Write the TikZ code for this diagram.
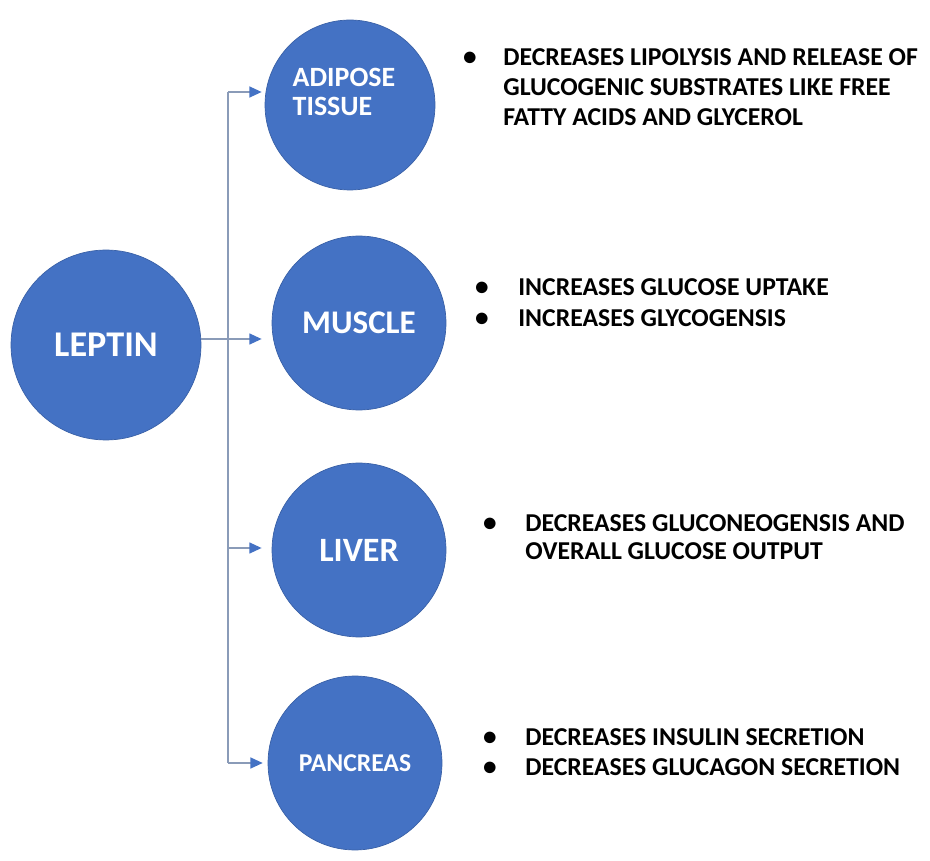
\documentclass[tikz,border=0pt]{standalone}
\usepackage{fontspec}
\setmainfont{Carlito}
\usetikzlibrary{arrows.meta}
\definecolor{organBlue}{HTML}{4472C4}
\definecolor{linkGrey}{HTML}{8A9BB8}

\tikzset{
  organ/.style={circle, fill=organBlue, draw=organBlue!85!black, line width=0.4pt,
    text=white, inner sep=0pt},
  organtext/.style={text=white, inner sep=0pt},
  link/.style={linkGrey, line width=0.95pt},
  arrowto/.style={-{Triangle[length=7pt, width=6.2pt, color=organBlue]}},
  bulletmark/.style={anchor=base, inner sep=0pt, font=\bfseries\fontsize{15.5}{18}\selectfont},
  effectline/.style={anchor=base west, inner sep=0pt, font=\bfseries\fontsize{14.65}{18}\selectfont}
}

\begin{document}
\begin{tikzpicture}[x=0.02cm, y=-0.02cm]
  \useasboundingbox (0,0) rectangle (930,861);

  % hormone and the four target organs
  \node[organ, minimum size=3.8cm, font=\bfseries\fontsize{20.6}{24}\selectfont] (leptin) at (106,345) {LEPTIN};
  \node[organ, minimum size=3.4cm] (adipose) at (350,105) {};
  \node[organtext, align=left, font=\bfseries\fontsize{15.9}{16.5}\selectfont] (adiposetxt) at (344,92) {ADIPOSE\\TISSUE};
  \node[organ, minimum size=3.48cm, font=\bfseries\fontsize{18.8}{24}\selectfont] (muscle) at (359,323) {MUSCLE};
  \node[organ, minimum size=3.48cm, font=\bfseries\fontsize{19.4}{24}\selectfont] (liver) at (359,550) {LIVER};
  \node[organ, minimum size=3.48cm, font=\bfseries\fontsize{14.6}{18}\selectfont] (pancreas) at (355,763) {PANCREAS};

  % branching connectors
  \coordinate (jadi) at (228,92);
  \coordinate (jmus) at (228,339);
  \coordinate (jliv) at (228,548);
  \coordinate (jpan) at (228,763);
  \draw[link] (jadi) -- (jpan);
  \draw[link, arrowto, shorten >=1.7pt] (jadi) -- (jadi -| adipose.west);
  \draw[link, arrowto, shorten >=5.7pt] (leptin.east |- jmus) -- (jmus -| muscle.west);
  \draw[link, arrowto, shorten >=5.7pt] (jliv) -- (jliv -| liver.west);
  \draw[link, arrowto, shorten >=2.8pt] (jpan) -- (jpan -| pancreas.west);

  % effects on adipose tissue
  \node[bulletmark] (adib1) at (470,66) {\textbullet};
  \node[effectline] (adi1) at (503,66) {DECREASES LIPOLYSIS AND RELEASE OF};
  \node[effectline] (adi2) at (503,96) {GLUCOGENIC SUBSTRATES LIKE FREE};
  \node[effectline] (adi3) at (503,126) {FATTY ACIDS AND GLYCEROL};

  % effects on muscle
  \node[bulletmark] (musb1) at (482,296) {\textbullet};
  \node[effectline] (mus1) at (518,296) {INCREASES GLUCOSE UPTAKE};
  \node[bulletmark] (musb2) at (482,327) {\textbullet};
  \node[effectline] (mus2) at (518,327) {INCREASES GLYCOGENSIS};

  % effects on liver
  \node[bulletmark] (livb1) at (490,531) {\textbullet};
  \node[effectline] (liv1) at (525,531) {DECREASES GLUCONEOGENSIS AND};
  \node[effectline] (liv2) at (525,560) {OVERALL GLUCOSE OUTPUT};

  % effects on pancreas
  \node[bulletmark] (panb1) at (490,745) {\textbullet};
  \node[effectline] (pan1) at (525,745) {DECREASES INSULIN SECRETION};
  \node[bulletmark] (panb2) at (490,775) {\textbullet};
  \node[effectline] (pan2) at (525,775) {DECREASES GLUCAGON SECRETION};
\end{tikzpicture}
\end{document}
